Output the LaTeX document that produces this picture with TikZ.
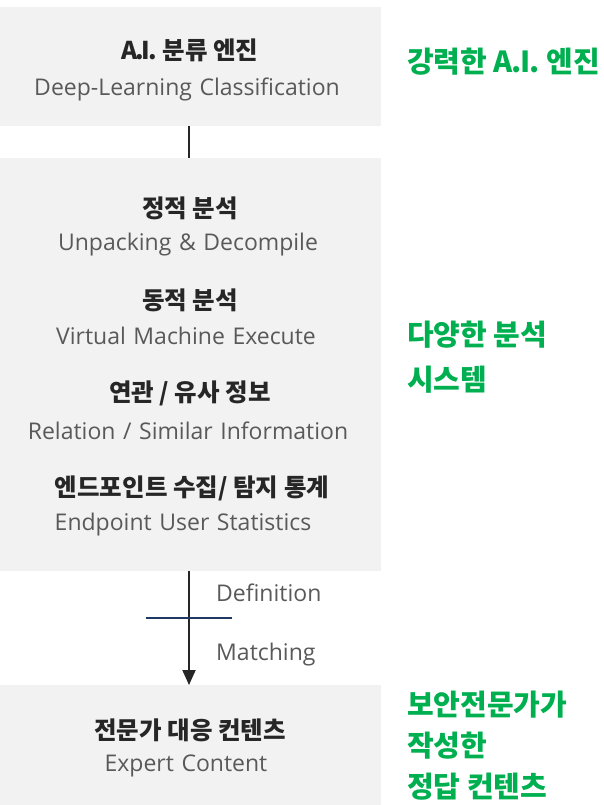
\documentclass[tikz,border=0pt]{standalone}
\usepackage{fontspec}
\setmainfont{Open Sans}
\newfontfamily\kr{Noto Sans CJK KR}
\usetikzlibrary{arrows.meta}
\definecolor{boxgray}{HTML}{F2F2F2}
\definecolor{head}{HTML}{262626}
\definecolor{sub}{HTML}{595959}
\definecolor{grn}{HTML}{00B050}
\definecolor{navy}{HTML}{1F3864}
\newcommand{\AIdots}{A\kern-1.5pt.\kern-1pt I\kern-1pt.}
\newcommand{\AItight}{A\kern-2.5pt.\kern-2pt I\kern-2pt.}
\newcommand{\subfont}{\fontsize{23}{26}\selectfont\spaceskip 0.33em plus 0.1em\relax}
\tikzset{
  box/.style={fill=boxgray, draw=none, minimum width=381pt, inner sep=0pt, anchor=north west},
  headtxt/.style={font={\kr\bfseries\fontsize{24.5}{28}\selectfont}, text=head, inner sep=0pt},
  subtxt/.style={font={\subfont}, text=sub, inner sep=0pt},
  greentxt/.style={font={\kr\bfseries\fontsize{29}{41}\selectfont}, text=grn, inner sep=0pt, anchor=west, align=left},
  conn/.style={line width=2pt, draw=head},
}
\begin{document}
\begin{tikzpicture}[x=1pt,y=-1pt]
\useasboundingbox (0,0) rectangle (604,805);
\node[box, minimum height=119pt] (b1) at (0,7) {};
\node[box, minimum height=413pt] (b2) at (0,158) {};
\node[box, minimum height=120pt] (b3) at (0,685) {};

\node[headtxt] (h1) at (190,50) {\AItight{} 분류 엔진};
\node[subtxt] (s1) at (187,89) {Deep-Learning Classification};

\node[headtxt] (h2) at (190,208) {정적 분석};
\node[subtxt] (s2) at (188,245) {Unpacking \& Decompile};
\node[headtxt] (h3) at (190,300) {동적 분석};
\node[subtxt] (s3) at (186,336) {Virtual Machine Execute};
\node[headtxt] (h4) at (190,393) {연관 / 유사 정보};
\node[subtxt] (s4) at (188,431) {Relation / Similar Information};
\node[headtxt] (h5) at (192,488) {엔드포인트 수집/ 탐지 통계};
\node[subtxt] (s5) at (183,525) {Endpoint User Statistics};

\node[headtxt] (h6) at (190,730) {전문가 대응 컨텐츠};
\node[subtxt] (s6) at (186,766) {Expert Content};

\node[greentxt] (g1) at (407,62) {강력한 \AIdots{} 엔진};
\node[greentxt] (g2) at (407,357) {다양한 분석\\[4pt]시스템};
\node[greentxt] (g3) at (407,746) {보안전문가가\\작성한\\정답 컨텐츠};

\coordinate (t1) at (189,126);
\coordinate (t2) at (189,158);
\draw[conn] (t1) -- (t2);
\coordinate (a1) at (189,571);
\coordinate (a2) at (189,685);
\draw[conn, -{Triangle[length=15pt,width=13pt]}] (a1) -- (a2);
\coordinate (m1) at (146,618);
\coordinate (m2) at (232,618);
\draw[line width=2pt, draw=navy] (m1) -- (m2);
\node[subtxt, anchor=west] (def) at (216,593) {Definition};
\node[subtxt, anchor=west] (mat) at (216,655) {Matching};
\end{tikzpicture}
\end{document}
